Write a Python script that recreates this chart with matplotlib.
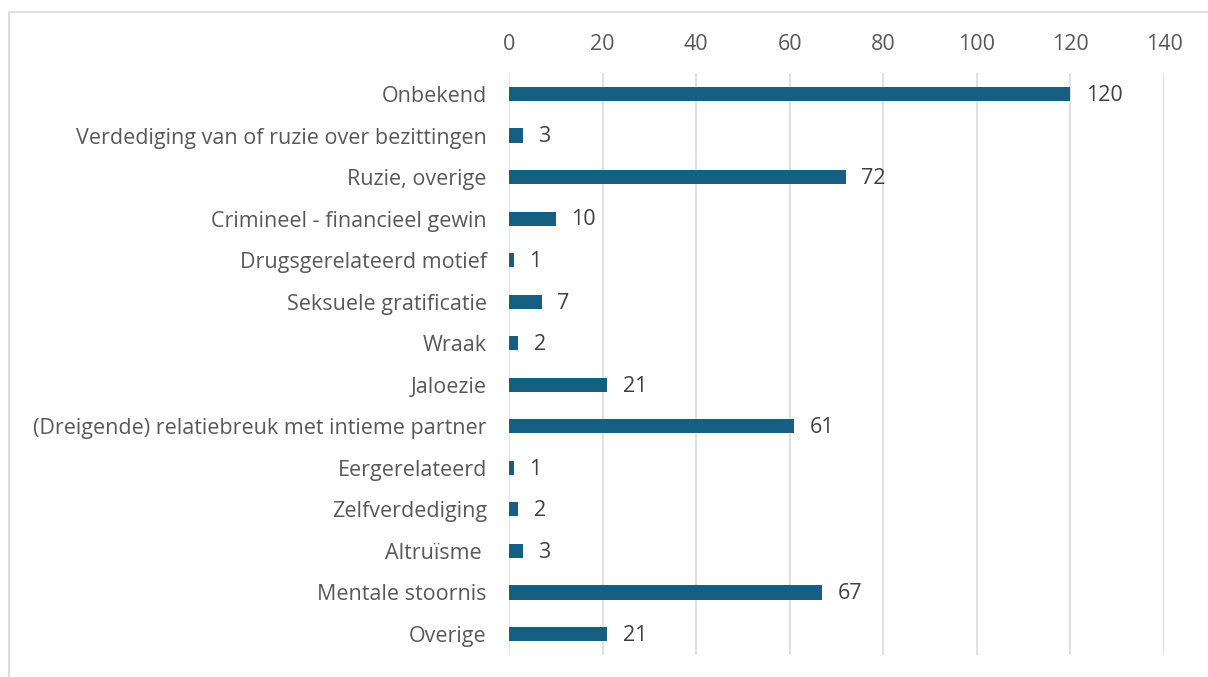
import matplotlib
matplotlib.use("Agg")
import matplotlib.pyplot as plt
from matplotlib.patches import Rectangle

categories = [
    "Onbekend",
    "Verdediging van of ruzie over bezittingen",
    "Ruzie, overige",
    "Crimineel - financieel gewin",
    "Drugsgerelateerd motief",
    "Seksuele gratificatie",
    "Wraak",
    "Jaloezie",
    "(Dreigende) relatiebreuk met intieme partner",
    "Eergerelateerd",
    "Zelfverdediging",
    "Altruïsme ",
    "Mentale stoornis",
    "Overige",
]
values = [120, 3, 72, 10, 1, 7, 2, 21, 61, 1, 2, 3, 67, 21]
xticks = [0, 20, 40, 60, 80, 100, 120, 140]

plt.rcParams['font.family'] = ['Open Sans', 'DejaVu Sans']
text_color = "#595959"
bar_color = "#156082"
grid_color = "#d9d9d9"
fs = 15.5

W, H = 1208, 677
fig = plt.figure(figsize=(W / 100, H / 100), dpi=100)
ax_left, ax_right = 509 / W, 1164 / W
ax_top, ax_bottom = 1 - 73.2 / H, 1 - 654.8 / H
ax = fig.add_axes([ax_left, ax_bottom, ax_right - ax_left, ax_top - ax_bottom])

ypos = list(range(len(categories)))
ax.barh(ypos, values, height=0.34, color=bar_color, zorder=3)
ax.set_xlim(0, 140)
ax.set_ylim(len(categories) - 0.5, -0.5)
ax.set_xticks(xticks)
ax.set_yticks(ypos)
ax.set_yticklabels(categories)
ax.xaxis.tick_top()
ax.tick_params(axis='both', length=0, labelsize=fs, labelcolor=text_color)
ax.tick_params(axis='x', pad=13)
ax.tick_params(axis='y', pad=16)
ax.grid(axis='x', color=grid_color, linewidth=1.1, zorder=0)
ax.grid(axis='y', visible=False)
for s in ax.spines.values():
    s.set_visible(False)

for y, v in zip(ypos, values):
    ax.annotate(str(v), xy=(v, y), xytext=(11, -1), textcoords='offset points',
                ha='left', va='center', fontsize=fs, color="#404040")

fig.patches.append(Rectangle((9 / W, -0.1), 1.2, 1 - 12 / H + 0.1,
                             transform=fig.transFigure, fill=False,
                             edgecolor=grid_color, linewidth=1.2))

fig.savefig("out.png", dpi=100)
